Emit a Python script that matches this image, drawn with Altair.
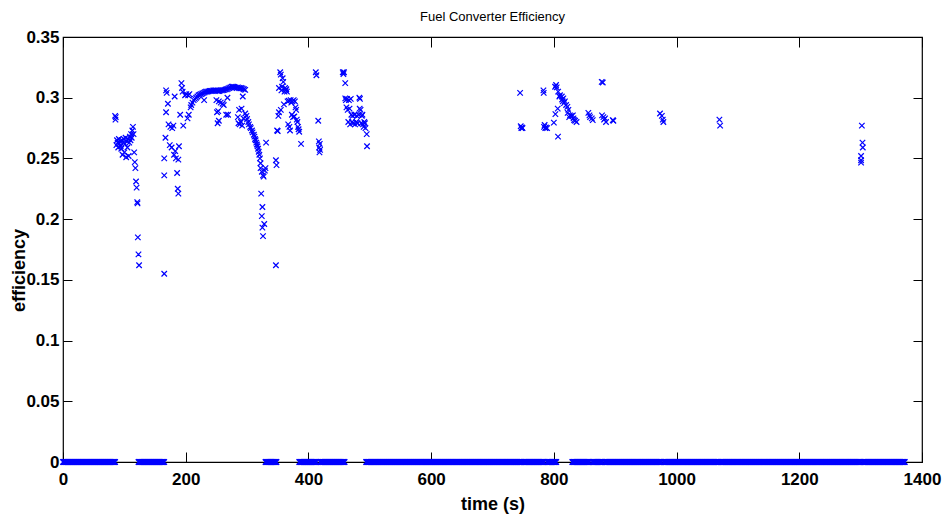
import altair as alt
import pandas as pd

# ---- data: (time s, efficiency) for nonzero samples ----
cluster_a = [(85, .285), (85.5, .282), (86, .284), (87, .261), (88, .265), (89, .263), (90, .259),
             (91, .266), (92, .262), (93, .264), (94, .260), (95, .258), (96, .265), (97, .253),
             (98, .263), (99, .266), (100, .255), (101, .262), (102, .267), (103, .251), (104, .264),
             (105, .259), (106, .266), (107, .252), (108, .263), (109, .268), (110, .265), (111, .270),
             (112, .267), (113, .273), (114, .276), (115, .270), (116, .255), (117, .247), (118, .242),
             (119, .231), (120, .226), (121, .214), (121.5, .213), (122, .185), (123, .171), (124, .162)]

cluster_b_early = [(165, .250), (165, .236), (165, .155), (167, .267), (168, .288), (168, .306),
                   (169, .304), (171, .295), (172, .278), (174, .261), (175, .276), (177, .259),
                   (178, .275), (180, .277), (181, .253), (182, .301), (183, .256), (184, .250),
                   (186, .238), (187, .225), (188, .221), (188, .249), (189, .260), (191, .286),
                   (193, .312), (194, .308), (195, .305), (196, .277), (199, .302), (201, .303),
                   (203, .283), (204, .302), (205, .286), (206, .303), (208, .292)]

cluster_b_arc = [(209, .294), (211, .296), (213, .298), (215, .299), (217, .300), (219, .301),
                 (221, .302), (223, .3025), (225, .303), (227, .3035), (229, .304), (231, .3045),
                 (233, .305), (235, .305), (237, .3052), (239, .3055), (241, .3055), (243, .3057),
                 (245, .306), (247, .306), (249, .306), (251, .3058), (253, .3055), (255, .3055),
                 (257, .306), (259, .306), (261, .3063), (263, .3065), (265, .3068), (267, .307),
                 (269, .3075), (271, .308), (273, .3085), (275, .309), (277, .309), (279, .3088),
                 (281, .3085), (283, .308), (285, .3085), (287, .308), (289, .3078), (291, .308),
                 (293, .3075), (295, .307), (297, .3065)]

cluster_b_scatter = [(230, .298), (250, .298), (251, .288), (252, .279), (253, .289), (254, .297),
                     (254, .281), (257, .296), (260, .295), (262, .294), (266, .286), (268, .300),
                     (269, .286), (285, .284), (286, .279), (287, .290), (288, .278), (290, .280),
                     (291, .291), (292, .277), (293, .301), (294, .283)]

cluster_b_fall = [(297, .287), (299, .285), (300, .2825), (302, .280), (303, .278), (305, .276),
                  (306, .275), (308, .273), (309, .2715), (311, .2695), (312, .268), (313, .266),
                  (314, .265), (315, .263), (316, .2615), (317, .260), (318, .258), (319, .2555),
                  (320, .253), (321, .250), (322, .246), (322, .242), (323, .221), (324, .239),
                  (324, .2025), (325, .210), (325, .193), (326, .236), (326, .186), (327, .235),
                  (328, .196), (329, .240), (330, .242), (331, .263)]

cluster_c = [(347, .162), (347, .2485), (348, .2445), (349, .273), (350, .2725), (351, .285),
             (352, .288), (352, .308), (354, .321), (355, .319), (355, .290), (356, .306),
             (357, .309), (358, .316), (359, .313), (360, .2945), (361, .305), (362, .308),
             (363, .306), (364, .307), (365, .305), (366, .297), (367, .278), (368, .2975),
             (369, .276), (370, .273), (371, .298), (372, .296), (373, .286), (374, .297),
             (375, .284), (376, .298), (377, .2845), (378, .297), (379, .292), (380, .290),
             (381, .282), (382, .280), (383, .276), (384, .274), (385, .272), (388, .262)]

cluster_d = [(412, .321), (413, .3185), (416, .281), (417, .264), (417.5, .259), (418, .255),
             (418.5, .262), (419, .257)]

cluster_e = [(456, .321), (457, .3195), (458, .321), (460, .312), (460, .2995), (461, .298),
             (462, .292), (463, .299), (464, .290), (465, .280), (466, .298), (467, .291),
             (468, .278), (469, .299), (470, .286), (471, .280), (472, .285), (473, .279),
             (475, .286), (476, .278), (478, .280), (479, .285), (480, .279), (482, .286),
             (483, .300), (483.5, .291), (484, .299), (485, .290), (486, .279), (487, .285),
             (488, .286), (489, .278), (490, .276), (491, .280), (492, .279), (493, .275),
             (495, .270), (495.5, .260)]

cluster_f = [(745, .304), (746, .2765), (747, .275), (748, .2755), (749, .275)]

cluster_g = [(783, .306), (783.5, .304), (784, .276), (785, .2775), (786, .275), (787, .2755),
             (789, .275)]

cluster_h = [(802, .309), (803.6, .3105), (804.7, .3085), (807, .305), (809, .301), (810, .302),
             (813, .301), (813.5, .2985), (814.5, .297), (815.5, .2995), (816.6, .2955), (818, .297),
             (820, .294), (822, .2925), (823.7, .290), (826.4, .2855), (829, .285), (832, .283),
             (834.6, .281), (806.3, .291), (802.5, .2865), (800, .2795), (806.8, .268),
             (822.5, .2875), (825, .284), (831, .2855), (833, .2815), (837, .280)]

cluster_i = [(856.2, .2875), (858, .2855), (859, .284), (861.8, .283), (863.4, .2815)]

cluster_j = [(878, .313), (879.7, .3125), (878.5, .2855), (880.7, .284), (881.8, .282),
             (883.5, .283), (885, .280), (896, .2815), (897, .281)]

cluster_k = [(973, .287), (976, .285), (977.5, .282), (978.5, .280)]

cluster_l = [(1069.8, .282), (1071, .277)]

cluster_m = [(1302, .277), (1303, .263), (1303.5, .259), (1300.7, .252), (1300.7, .2485),
             (1300.7, .2465)]

# time spans (s) in which the efficiency is zero, one sample per second
zero_start = [0, 123, 330, 385, 419, 494, 751, 789, 830, 863, 883, 979, 1072, 1304]
zero_end = [85, 165, 348, 413, 459, 748, 784, 804, 858, 879, 975, 1069, 1300, 1372]

x_ticks = [0, 200, 400, 600, 800, 1000, 1200, 1400]
y_ticks = [0, 0.05, 0.1, 0.15, 0.2, 0.25, 0.3, 0.35]

clusters = [cluster_a, cluster_b_early, cluster_b_arc, cluster_b_scatter, cluster_b_fall,
            cluster_c, cluster_d, cluster_e, cluster_f, cluster_g, cluster_h, cluster_i,
            cluster_j, cluster_k, cluster_l, cluster_m]

rows = []
for cl in clusters:
    rows += [{"t": t, "eff": e} for t, e in cl]
for s, e in zip(zero_start, zero_end):
    rows += [{"t": t, "eff": 0.0} for t in range(s, e + 1)]
df = pd.DataFrame(rows)

W, H = 859, 425
XT, YT = 10, 9  # inward tick lengths
FONT = "Liberation Sans, Arial, Helvetica, sans-serif"
XMARK = "M-1,-1L1,1M-1,1L1,-1"

xscale = alt.Scale(domain=[0, 1400], nice=False, zero=False)
yscale = alt.Scale(domain=[0, 0.35], nice=False, zero=False)

# left/bottom axes are pulled inside by the tick length, so their ticks point inward
points = alt.Chart(df).mark_point(
    shape=XMARK, filled=False, color="#0000ff", size=30, strokeWidth=1.2, opacity=1
).encode(
    x=alt.X("t:Q", scale=xscale, axis=alt.Axis(
        orient="bottom", offset=-XT, values=x_ticks, format="d", ticks=True, tickSize=XT,
        tickColor="black", tickWidth=1,
        labelPadding=22, labelBaseline="alphabetic", labelFont=FONT, labelFontSize=17,
        labelFontWeight="bold", labelColor="black", labelFlush=False, labelOverlap=False,
        domain=False, grid=False,
        title="time (s)", titleFont=FONT, titleFontSize=18, titleFontWeight="bold",
        titleColor="black", titleY=47 + XT, titleBaseline="alphabetic")),
    y=alt.Y("eff:Q", scale=yscale, axis=alt.Axis(
        orient="left", offset=-YT, values=y_ticks, format=".2~f", ticks=True, tickSize=YT,
        tickColor="black", tickWidth=1,
        labelPadding=4, labelFont=FONT, labelFontSize=17, labelFontWeight="bold",
        labelColor="black", labelFlush=False, labelOverlap=False,
        domain=False, grid=False,
        title="efficiency", titleFont=FONT, titleFontSize=18, titleFontWeight="bold",
        titleColor="black", titleX=-44 - YT, titleY=233, titleBaseline="middle")),
)

anchor = pd.DataFrame({"t": [0], "eff": [0]})

# top/right: tick-only axes pulled inside the plot so ticks point inward
ticks_tr = alt.Chart(anchor).mark_point(opacity=0).encode(
    x=alt.X("t:Q", scale=xscale, axis=alt.Axis(
        orient="top", offset=-XT, values=x_ticks, labels=False, ticks=True, tickSize=XT,
        tickColor="black", tickWidth=1, domain=False, grid=False, title=None)),
    y=alt.Y("eff:Q", scale=yscale, axis=alt.Axis(
        orient="right", offset=-YT, values=y_ticks, labels=False, ticks=True, tickSize=YT,
        tickColor="black", tickWidth=1, domain=False, grid=False, title=None)),
)

chart = alt.layer(ticks_tr, points).resolve_axis(
    x="independent", y="independent"
).properties(
    width=W, height=H,
    autosize=alt.AutoSizeParams(type="none"),
    padding={"left": 63, "top": 37, "right": 23, "bottom": 53},
    title=alt.TitleParams("Fuel Converter Efficiency", font=FONT, fontSize=13,
                          fontWeight="normal", color="black", anchor="middle",
                          frame="group", baseline="alphabetic", offset=15, dy=21),
    background="white",
).configure_view(stroke="black", strokeWidth=1.2)

chart.save("out.html", embed_options={"renderer": "svg", "actions": False})
